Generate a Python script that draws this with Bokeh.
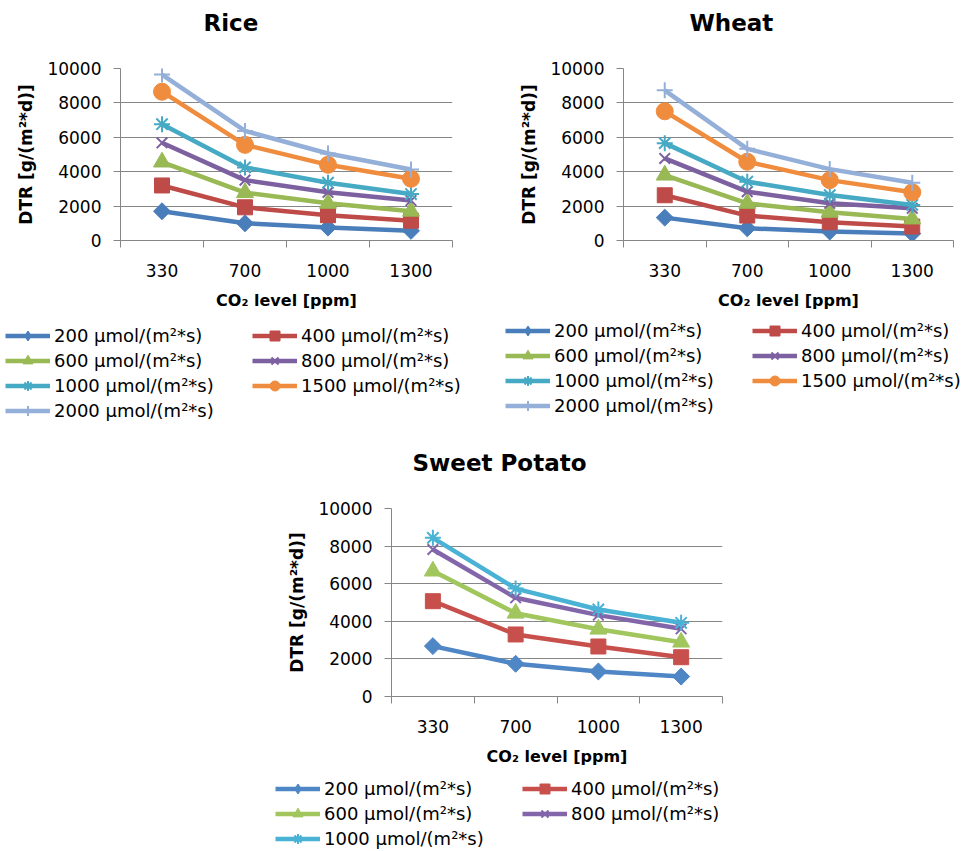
import math
from bokeh.plotting import figure
from bokeh.models import FixedTicker, Legend, LegendItem, Spacer, Range1d
from bokeh.layouts import column, row
from bokeh.embed import file_html
from bokeh.resources import INLINE

# ---------------- data ----------------
co2_levels = ["330", "700", "1000", "1300"]
light_labels = ["200 µmol/(m²*s)", "400 µmol/(m²*s)", "600 µmol/(m²*s)",
                "800 µmol/(m²*s)", "1000 µmol/(m²*s)", "1500 µmol/(m²*s)",
                "2000 µmol/(m²*s)"]

rice_200 = [1700, 1000, 750, 560]
rice_400 = [3200, 1930, 1470, 1150]
rice_600 = [4560, 2780, 2160, 1700]
rice_800 = [5680, 3510, 2800, 2320]
rice_1000 = [6760, 4250, 3360, 2700]
rice_1500 = [8650, 5560, 4400, 3590]
rice_2000 = [9650, 6370, 5060, 4130]

wheat_200 = [1330, 710, 520, 400]
wheat_400 = [2630, 1450, 1060, 810]
wheat_600 = [3800, 2160, 1640, 1250]
wheat_800 = [4770, 2840, 2160, 1870]
wheat_1000 = [5660, 3420, 2640, 2070]
wheat_1500 = [7510, 4580, 3510, 2800]
wheat_2000 = [8730, 5330, 4150, 3360]

sp_200 = [2680, 1740, 1330, 1060]
sp_400 = [5070, 3300, 2660, 2090]
sp_600 = [6670, 4430, 3580, 2890]
sp_800 = [7820, 5250, 4330, 3600]
sp_1000 = [8440, 5740, 4630, 3920]

y_ticks = [0, 2000, 4000, 6000, 8000, 10000]

# ---------------- styling ----------------
FONT = "DejaVu Sans"
GRID = "#868686"
markers = ["square", "square", "triangle", "x", "asterisk", "circle", "cross"]
legend_markers = ["diamond", "square", "triangle", "x", "asterisk", "circle", "cross"]
marker_angles = [math.pi / 4, 0, 0, 0, 0, 0, 0]
marker_sizes = [12, 15, 17, 15, 16, 17, 16]
colors_top = ["#4A7EBB", "#BE4B48", "#98B954", "#7D60A0", "#46AAC5", "#F08C3E", "#94AFD8"]
colors_sp = ["#4F86C6", "#C8504C", "#A2C65E", "#8366AA", "#4AB2D4"]

XS = [i + 0.5 for i in range(len(co2_levels))]


def add_series(p, ys, k, c, mk):
    lr = p.line(XS, ys, line_color=c, line_width=4.5)
    m = mk[k]
    if m in ("x", "asterisk", "cross"):
        sr = p.scatter(XS, ys, marker=m, size=marker_sizes[k],
                       line_color=c, line_width=2, fill_color=c)
    else:
        sr = p.scatter(XS, ys, marker=m, size=marker_sizes[k], angle=marker_angles[k],
                       line_color=c, fill_color=c, line_width=1)
    return lr, sr


def make_chart(title, series, colors, width, height, borders, title_left):
    left, right, top, bottom = borders
    p = figure(width=width, height=height, output_backend="svg",
               toolbar_location=None, tools="",
               x_range=Range1d(0, len(co2_levels)), y_range=Range1d(0, 10000),
               min_border_left=left, min_border_right=right,
               min_border_top=top, min_border_bottom=bottom)
    p.outline_line_color = None
    p.background_fill_color = "white"
    p.border_fill_color = "white"

    p.title.text = title + "\n "
    p.title.text_font = FONT
    p.title.text_font_style = "bold"
    p.title.text_font_size = "23px"
    p.title.text_color = "black"
    p.title.align = "left"
    p.title.offset = title_left
    p.title.standoff = 14

    # x axis: labels at category centres, tick marks between categories
    p.xaxis.ticker = FixedTicker(ticks=XS, minor_ticks=list(range(len(co2_levels) + 1)))
    p.xaxis.major_label_overrides = {x: lab for x, lab in zip(XS, co2_levels)}
    p.xaxis.major_tick_line_color = None
    p.xaxis.major_tick_out = 0
    p.xaxis.major_tick_in = 0
    p.xaxis.minor_tick_line_color = GRID
    p.xaxis.minor_tick_out = 7
    p.xaxis.minor_tick_in = 0
    p.xaxis.minor_tick_line_width = 1
    p.xaxis.axis_line_color = GRID
    p.xaxis.major_label_text_font = FONT
    p.xaxis.major_label_text_font_size = "17px"
    p.xaxis.major_label_text_color = "black"
    p.xaxis.major_label_standoff = 16
    p.xaxis.axis_label = "CO₂ level [ppm]"
    p.xaxis.axis_label_text_font = FONT
    p.xaxis.axis_label_text_font_style = "bold"
    p.xaxis.axis_label_text_font_size = "16px"
    p.xaxis.axis_label_text_color = "black"
    p.xaxis.axis_label_standoff = 11

    p.yaxis.ticker = FixedTicker(ticks=y_ticks)
    p.yaxis.minor_tick_line_color = None
    p.yaxis.major_tick_line_color = GRID
    p.yaxis.major_tick_out = 7
    p.yaxis.major_tick_in = 0
    p.yaxis.axis_line_color = GRID
    p.yaxis.major_label_text_font = FONT
    p.yaxis.major_label_text_font_size = "17px"
    p.yaxis.major_label_text_color = "black"
    p.yaxis.major_label_standoff = 12
    p.yaxis.axis_label = "DTR [g/(m²*d)]"
    p.yaxis.axis_label_text_font = FONT
    p.yaxis.axis_label_text_font_style = "bold"
    p.yaxis.axis_label_text_font_size = "17px"
    p.yaxis.axis_label_text_color = "black"
    p.yaxis.axis_label_standoff = 8

    p.xgrid.grid_line_color = None
    p.ygrid.grid_line_color = GRID
    p.ygrid.grid_line_width = 1

    for k, ys in enumerate(series):
        add_series(p, ys, k, colors[k], markers)
    return p


def make_legend(series, colors, width, height, loc):
    # legend-only panel: the series are attached but lie outside its ranges
    lf = figure(width=width, height=height, output_backend="svg",
                toolbar_location=None, tools="",
                x_axis_location=None, y_axis_location=None,
                x_range=Range1d(-20, -19), y_range=Range1d(-20, -19),
                min_border_left=0, min_border_right=0,
                min_border_top=0, min_border_bottom=0)
    lf.grid.visible = False
    lf.outline_line_color = None
    lf.border_fill_color = "white"
    items = []
    for k, ys in enumerate(series):
        lr, sr = add_series(lf, ys, k, colors[k], legend_markers)
        items.append(LegendItem(label=light_labels[k], renderers=[lr, sr]))
    legend = Legend(items=items, location=loc, orientation="horizontal",
                    ncols=2, glyph_width=45, glyph_height=25, label_height=20,
                    label_width=198, label_standoff=4, spacing=0,
                    padding=0, margin=0, border_line_color=None,
                    background_fill_alpha=0,
                    label_text_font=FONT, label_text_font_size="18px",
                    label_text_color="black")
    lf.add_layout(legend, "center")
    return lf


rice_series = [rice_200, rice_400, rice_600, rice_800, rice_1000, rice_1500, rice_2000]
wheat_series = [wheat_200, wheat_400, wheat_600, wheat_800, wheat_1000, wheat_1500, wheat_2000]
sp_series = [sp_200, sp_400, sp_600, sp_800, sp_1000]

rice = make_chart("Rice", rice_series, colors_top, 490, 318, (120, 38, 68, 78), 83)
wheat = make_chart("Wheat", wheat_series, colors_top, 489, 318, (133, 26, 68, 78), 66)
sweet = make_chart("Sweet Potato", sp_series, colors_sp, 492, 346, (131, 30, 78, 80), 21)

rice_leg = make_legend(rice_series, colors_top, 490, 112, (5, 7))
wheat_leg = make_legend(wheat_series, colors_top, 489, 112, (15, 12))
sweet_leg = make_legend(sp_series, colors_sp, 492, 75, (15, 0))

layout = column(
    row(rice, wheat),
    row(rice_leg, wheat_leg),
    row(Spacer(width=260, height=346), sweet),
    row(Spacer(width=260, height=75), sweet_leg),
)

with open("out.html", "w") as f:
    f.write(file_html(layout, INLINE))
